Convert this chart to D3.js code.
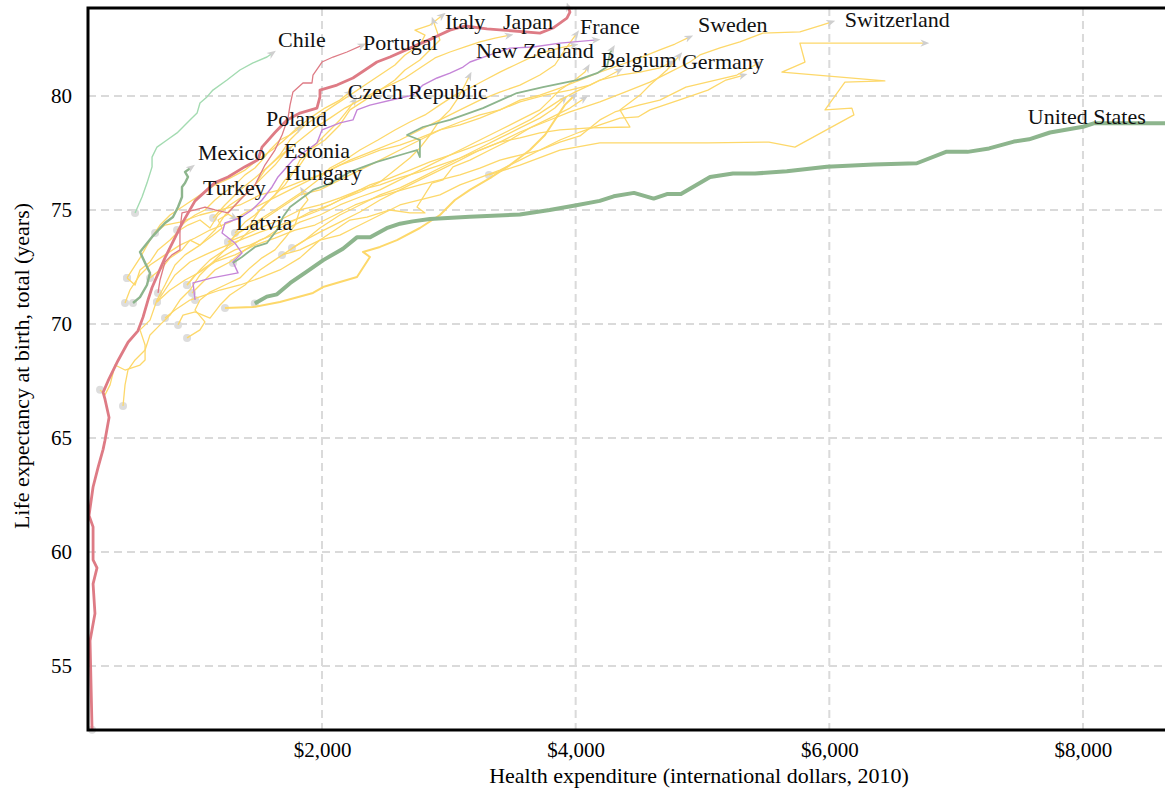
<!DOCTYPE html>
<html>
<head>
<meta charset="utf-8">
<script src="https://cdn.jsdelivr.net/npm/d3@7"></script>
<style>
  html, body { margin: 0; padding: 0; background: #fff; overflow: hidden; }
  svg { display: block; font-family: "Liberation Serif", "Times New Roman", serif; }
</style>
</head>
<body>
<svg id="chart" width="1165" height="792"></svg>
<script>
// ---- Axis ticks ----
const xTicks = [2000, 4000, 6000, 8000];
const yTicks = [55, 60, 65, 70, 75, 80];

// ---- Country trajectories: [health expenditure ($), life expectancy (years)] by year ----
const unitedStates = [[1470,70.9],[1565,71.2],[1645,71.3],[1750,71.8],[1880,72.3],[2010,72.8],[2165,73.3],[2275,73.8],[2380,73.8],[2510,74.2],[2615,74.4],[2715,74.5],[2850,74.6],[3165,74.7],[3560,74.8],[3795,75.0],[3995,75.2],[4190,75.4],[4300,75.6],[4460,75.75],[4615,75.5],[4720,75.7],[4830,75.7],[5060,76.45],[5240,76.6],[5415,76.6],[5665,76.7],[5980,76.9],[6350,77.0],[6690,77.05],[6920,77.55],[7090,77.55],[7260,77.7],[7455,78.0],[7575,78.1],[7740,78.4],[8000,78.65],[8085,78.8],[8315,78.8],[8700,78.8]];
const japan = [[187,52.2],[171,56.1],[210,57.3],[195,58.6],[226,59.3],[195,59.65],[195,61.1],[163,61.6],[195,62.85],[234,63.7],[274,64.5],[289,64.9],[321,65.9],[289,66.7],[274,67.0],[313,67.5],[392,68.4],[471,69.2],[549,69.7],[589,70.3],[628,71.05],[660,71.6],[762,72.9],[896,74.4],[999,75.4],[1156,76.2],[1259,76.45],[1393,76.9],[1495,77.2],[1527,77.76],[1629,78.4],[1724,78.95],[1826,79.25],[1960,79.47],[1984,79.96],[1984,80.26],[2118,80.48],[2244,80.79],[2339,81.14],[2433,81.49],[2536,81.71],[2694,82.1],[2875,82.54],[3009,82.89],[3127,83.07],[3301,82.94],[3427,82.89],[3718,82.76],[3821,82.98],[3931,83.42],[3955,83.68],[3939,83.95]];
const portugal = [[707,71.36],[723,71.93],[762,72.72],[817,73.03],[880,73.25],[880,74.12],[896,74.87],[999,75.0],[1078,75.13],[1156,75.0],[1259,74.87],[1353,75.44],[1472,76.1],[1550,76.97],[1629,77.63],[1685,78.29],[1732,79.03],[1748,79.6],[1771,80.18],[1850,80.57],[1921,80.57],[1929,80.92],[2000,81.49],[2087,81.71],[2197,81.93],[2323,82.24]];
const newZealand = [[999,71.05],[983,71.8],[1133,72.02],[1338,72.24],[1298,72.72],[1369,73.11],[1314,73.55],[1212,73.99],[1235,74.43],[1353,74.65],[1448,75.0],[1527,75.44],[1606,76.01],[1653,76.45],[1771,77.19],[1850,77.5],[1960,77.94],[2000,78.51],[2142,78.82],[2244,78.95],[2276,79.39],[2378,79.6],[2615,79.91],[2717,80.04],[2796,80.48],[2907,80.79],[3009,81.0],[3112,81.27],[3167,81.49],[3324,81.8],[3482,82.1],[3663,82.15],[3876,82.32],[4168,82.46]];
const mexico = [[510,70.92],[565,71.18],[620,71.71],[644,72.24],[605,72.68],[565,73.16],[660,73.82],[762,74.43],[825,74.69],[865,75.13],[896,75.57],[896,76.01],[920,76.18],[943,76.45],[920,76.67],[975,76.89]];
const canada = [[1298,72.68],[1369,72.94],[1472,73.38],[1566,73.55],[1645,74.12],[1692,74.69],[1748,75.13],[1929,75.88],[2039,76.1],[2220,76.67],[2433,77.11],[2670,77.5],[2749,77.63],[2772,77.32],[2772,78.07],[2670,78.29],[2796,78.64],[3009,78.95],[3269,79.47],[3537,80.13],[3742,80.39],[4010,80.7],[4168,81.0],[4247,81.27],[4271,81.89],[4294,82.1]];
const chile = [[526,74.87],[581,75.57],[620,76.18],[660,76.89],[660,77.32],[699,77.76],[778,78.07],[857,78.38],[959,78.95],[1015,79.25],[1038,79.69],[1093,79.96],[1140,80.26],[1251,80.7],[1353,81.14],[1456,81.45],[1566,81.71],[1613,81.89]];

const italy = [[250,67.11],[289,66.89],[329,67.33],[368,68.2],[447,67.98],[565,68.2],[605,68.42],[605,69.08],[565,69.74],[644,70.17],[699,71.05],[762,71.71],[841,72.59],[920,73.03],[1038,73.46],[1156,74.12],[1235,74.78],[1353,75.44],[1471,76.1],[1550,76.75],[1668,77.41],[1747,78.07],[1866,78.73],[1984,79.17],[2102,79.61],[2220,80.04],[2339,80.48],[2457,80.92],[2575,81.36],[2654,81.8],[2772,82.24],[2812,82.67],[2733,82.89],[2851,83.11],[2953,83.55]];
const spain = [[431,66.4],[447,67.33],[470,67.98],[526,68.42],[605,68.86],[644,69.52],[723,69.96],[802,70.39],[880,71.05],[959,71.49],[1038,72.15],[1117,72.59],[1235,73.25],[1314,73.9],[1432,74.34],[1511,75.0],[1629,75.66],[1708,76.32],[1826,76.97],[1905,77.63],[2023,78.07],[2141,78.73],[2220,79.39],[2339,79.82],[2457,80.26],[2575,80.7],[2654,81.14],[2772,81.58],[2851,82.02],[2930,82.46],[2875,83.33]];
const france = [[447,70.92],[486,71.49],[565,72.15],[644,72.59],[762,73.03],[880,73.46],[999,73.77],[1117,74.12],[1274,74.47],[1432,75.0],[1590,75.44],[1747,75.88],[1905,76.32],[2063,76.75],[2220,77.19],[2417,77.63],[2614,78.07],[2772,78.51],[2930,78.95],[3088,79.39],[3245,79.82],[3403,80.17],[3561,80.48],[3718,80.92],[3836,81.36],[3915,82.02],[4010,82.76]];
const sweden = [[684,73.99],[762,74.34],[880,74.47],[1038,74.78],[1196,75.0],[1353,75.22],[1511,75.66],[1668,75.88],[1826,76.23],[1984,76.54],[2141,76.97],[2299,77.28],[2457,77.63],[2614,77.85],[2772,78.16],[2930,78.51],[3088,78.73],[3245,79.03],[3403,79.39],[3561,79.82],[3718,80.04],[3876,80.35],[4034,80.7],[4191,81.05],[4349,81.36],[4507,81.67],[4664,82.02],[4783,82.28],[4901,82.59]];
const switzerland = [[1763,73.33],[1866,73.68],[1984,74.03],[2141,74.47],[2299,74.91],[2457,75.44],[2614,75.88],[2772,76.32],[2930,76.75],[3088,77.19],[3245,77.63],[3403,77.98],[3561,78.42],[3758,78.86],[3955,79.3],[4191,79.74],[4388,80.17],[4586,80.61],[4743,81.05],[4901,81.49],[4980,81.8],[5138,82.11],[5295,82.37],[5476,82.76],[5768,82.81],[5941,83.11],[6020,83.25]];
const luxembourg = [[3316,76.54],[3561,76.97],[3876,77.63],[4191,77.94],[5043,77.94],[5524,77.98],[5729,77.76],[6194,79.17],[6178,79.47],[5966,79.39],[6123,80.61],[6438,80.66],[5626,81.05],[5808,81.49],[5768,82.32],[6761,82.32]];
const norway = [[1685,73.03],[1826,73.25],[1984,73.68],[2141,73.9],[2299,74.34],[2457,74.78],[2614,75.22],[2772,75.44],[2930,75.66],[3088,76.1],[3245,76.42],[3403,76.75],[3561,77.19],[3718,77.63],[3876,78.07],[4034,78.42],[4191,78.73],[4349,79.03],[4492,79.08],[4586,79.39],[4814,79.82],[5043,80.26],[5185,80.7],[5327,80.92]];
const netherlands = [[1259,73.6],[1393,73.9],[1511,74.21],[1668,74.56],[1826,75.0],[1984,75.22],[2141,75.53],[2299,75.88],[2457,76.1],[2614,76.42],[2772,76.67],[2930,76.97],[3088,77.28],[3245,77.63],[3403,77.98],[3561,78.16],[3718,78.38],[3876,78.51],[4112,78.6],[4428,78.64],[4349,79.39],[4507,80.04],[4586,80.48],[4720,81.14],[4822,81.8]];
const denmark = [[699,70.96],[802,71.49],[920,71.93],[1038,72.28],[1156,72.72],[1314,73.03],[1471,73.46],[1629,73.77],[1787,74.12],[1944,74.34],[2102,74.78],[2260,75.22],[2417,75.53],[2575,75.79],[2772,76.1],[2930,76.32],[3088,76.54],[3245,76.84],[3403,77.19],[3561,77.41],[3718,77.63],[3876,77.98],[4034,78.25],[4191,78.95],[4309,79.3],[4507,79.61],[4664,79.82],[4869,80.39],[5271,80.92],[5445,81.45]];
const austria = [[936,71.71],[1038,72.37],[1117,72.81],[1235,73.25],[1353,73.68],[1471,74.34],[1590,74.78],[1708,75.22],[1826,75.66],[1984,75.88],[2141,76.32],[2299,76.75],[2457,77.19],[2614,77.63],[2772,78.07],[2930,78.51],[3088,78.86],[3245,79.17],[3403,79.39],[3561,79.74],[3758,80.04],[3955,80.26],[4112,80.48],[4191,80.7],[4349,80.92],[4507,81.05],[4664,81.23],[4759,81.49]];
const belgium = [[975,71.36],[1077,71.93],[1156,72.37],[1274,72.72],[1393,73.25],[1511,73.68],[1668,74.03],[1826,74.47],[1984,74.78],[2141,75.22],[2299,75.57],[2457,75.88],[2614,76.32],[2772,76.75],[2930,77.19],[3088,77.63],[3245,78.07],[3403,78.51],[3561,78.95],[3718,79.39],[3797,79.82],[3876,80.26],[3994,80.7],[4073,81.05],[4096,81.27]];
const germany = [[1235,70.7],[1456,70.74],[1668,70.96],[1929,71.36],[2008,71.62],[2276,72.06],[2378,72.94],[2323,73.16],[2457,73.38],[2591,73.68],[2772,74.21],[2930,74.78],[3048,75.44],[3166,75.88],[3324,76.4],[3482,76.97],[3639,77.63],[3758,78.29],[3836,78.95],[3915,79.61],[3994,80.04]];
const unitedKingdom = [[762,70.26],[841,70.61],[959,71.05],[1077,71.27],[1196,71.49],[1353,71.71],[1511,72.02],[1668,72.37],[1826,72.9],[1984,73.68],[2102,74.12],[2220,74.56],[2354,74.69],[2536,75.0],[2693,74.87],[2812,74.87],[2749,75.13],[2867,76.18],[2954,76.32],[3033,76.89],[3166,77.19],[3324,77.63],[3482,78.07],[3639,78.6],[3797,79.03],[3955,79.47],[4073,79.91]];
const finland = [[865,69.96],[904,70.39],[999,70.53],[1117,70.26],[1196,70.83],[1274,71.27],[1393,71.71],[1511,72.37],[1629,72.81],[1747,73.25],[1866,73.68],[1984,74.21],[2141,74.78],[2299,75.22],[2457,75.66],[2614,75.97],[2772,76.4],[2930,76.84],[3088,77.28],[3245,77.72],[3403,78.16],[3561,78.6],[3718,79.03],[3836,79.47],[3915,79.91]];
const hungary = [[936,69.39],[1038,69.74],[1077,70.09],[999,70.61],[1038,71.05],[1117,71.4],[1235,71.71],[1353,72.02],[1432,72.46],[1527,72.9],[1629,73.25],[1708,73.77],[1787,74.34],[1826,75.0],[1889,75.44],[1842,75.88]];
const estonia = [[463,72.02],[526,71.71],[565,72.37],[644,72.72],[707,73.25],[802,73.68],[880,74.12],[943,74.34],[1038,74.56],[1117,74.21],[1180,74.78],[1274,75.22],[1393,75.66],[1471,76.1],[1550,76.54],[1629,76.97],[1692,77.41],[1747,77.72]];
const latvia = [[644,72.02],[739,72.46],[802,72.9],[896,73.25],[959,73.68],[1038,73.46],[1133,73.86],[1212,74.21],[1180,74.56],[1259,74.82],[1314,74.65]];
const poland = [[857,74.12],[920,74.47],[999,74.78],[1077,75.0],[1156,75.44],[1235,75.79],[1314,76.1],[1393,76.54],[1471,76.84],[1527,77.19],[1590,77.63],[1668,78.07],[1747,78.29],[1826,78.6]];
const czechRepublic = [[1314,73.99],[1393,74.47],[1471,74.78],[1550,75.22],[1629,75.66],[1708,76.1],[1787,76.75],[1826,77.19],[1905,77.63],[1984,78.07],[2063,78.51],[2141,78.95],[2204,79.39],[2260,79.82]];
const greece = [[699,70.96],[762,71.49],[841,72.15],[959,72.72],[1077,73.03],[1196,73.33],[1353,73.68],[1511,74.03],[1668,74.34],[1826,74.65],[1984,75.0],[2141,75.44],[2299,75.79],[2457,76.23],[2575,76.75],[2693,77.28],[2772,77.72],[2851,78.29],[2930,78.95],[3009,79.39],[3072,79.91],[3127,80.48],[3166,80.92]];
const ireland = [[936,71.71],[999,72.15],[1077,72.46],[1196,72.9],[1314,73.25],[1432,73.46],[1550,73.77],[1668,74.21],[1787,74.56],[1905,74.91],[2063,75.22],[2220,75.66],[2378,76.1],[2536,76.4],[2693,76.75],[2851,77.11],[3009,77.41],[3166,77.72],[3324,78.07],[3482,78.51],[3639,78.95],[3758,79.39],[3876,79.82],[3994,80.17],[4112,80.48],[4230,80.79],[4349,81.14]];
const australia = [[1259,73.6],[1353,74.03],[1448,74.34],[1527,74.65],[1629,75.0],[1747,75.44],[1866,75.88],[1968,76.32],[2063,76.84],[2181,77.19],[2299,77.63],[2441,78.07],[2575,78.51],[2693,78.86],[2812,79.17],[2930,79.61],[3048,80.04],[3166,80.35],[3285,80.7],[3403,81.05],[3521,81.36],[3639,81.67],[3758,81.93],[3876,82.11],[3994,82.24]];
const iceland = [[1141,74.65],[1235,75.22],[1353,75.88],[1471,76.4],[1590,76.97],[1708,77.54],[1826,78.07],[1944,78.6],[2063,79.03],[2181,79.47],[2299,79.82],[2417,80.17],[2536,80.48],[2654,80.79],[2772,81.23],[2891,81.67],[3009,81.93],[3127,82.15],[3245,82.37],[3364,82.54],[3482,82.67]];
const israel = [[463,72.02],[565,72.9],[644,73.68],[723,74.34],[802,74.78],[920,75.22],[1038,75.66],[1156,76.1],[1274,76.4],[1393,76.75],[1511,77.28],[1606,77.63],[1685,77.98],[1787,78.51],[1905,79.03],[2023,79.47],[2141,79.82],[2220,80.17]];

// Series table: name, region group, trajectory
const series = [
  ["Italy", "europe", italy], ["Spain", "europe", spain], ["France", "europe", france],
  ["Sweden", "europe", sweden], ["Switzerland", "europe", switzerland], ["Luxembourg", "europe", luxembourg],
  ["Norway", "europe", norway], ["Netherlands", "europe", netherlands], ["Denmark", "europe", denmark],
  ["Austria", "europe", austria], ["Belgium", "europe", belgium], ["Germany", "europe", germany],
  ["United Kingdom", "europe", unitedKingdom], ["Finland", "europe", finland], ["Hungary", "europe", hungary],
  ["Estonia", "europe", estonia], ["Latvia", "europe", latvia], ["Poland", "europe", poland],
  ["Czech Republic", "europe", czechRepublic], ["Greece", "europe", greece], ["Ireland", "europe", ireland],
  ["Iceland", "europe", iceland], ["Israel", "europe", israel], ["Australia", "europe", australia],
  ["New Zealand", "oceania", newZealand],
  ["Portugal", "asia", portugal],
  ["Chile", "southAmerica", chile],
  ["Canada", "americas", canada], ["Mexico", "americas", mexico],
  ["Japan", "asia", japan],
  ["United States", "americas", unitedStates]
];

// Country labels: [text, expenditure, life expectancy] at the text's start and baseline
const labels = [
  ["Chile", 1653, 82.15], ["Portugal", 2323, 82.0], ["Italy", 2970, 82.96], ["Japan", 3427, 82.96],
  ["France", 4034, 82.72], ["Sweden", 4964, 82.81], ["Switzerland", 6122, 83.03],
  ["New Zealand", 3214, 81.68], ["Belgium", 4199, 81.28], ["Germany", 4838, 81.18],
  ["Czech Republic", 2204, 79.87], ["Poland", 1558, 78.68], ["Mexico", 1022, 77.19],
  ["Estonia", 1700, 77.3], ["Hungary", 1708, 76.3], ["Turkey", 1062, 75.66],
  ["Latvia", 1322, 74.12], ["United States", 7565, 78.77]
];

// ---- Styling ----
const regionColor = {
  europe: "#fdd86a", oceania: "#c585d8", asia: "#de7b85",
  americas: "#8db58d", southAmerica: "#a3dbb1"
};
const strokeWidth = {
  "United States": 4, "Japan": 2.8, "Mexico": 2.4, "Canada": 1.8, "Germany": 2,
  "Chile": 1.4, "Portugal": 1.3, "New Zealand": 1.4
};

const svg = d3.select("#chart");
const plotLeft = 88, plotTop = 8, plotBottom = 730, plotRight = 1310;

const x = d3.scaleLinear().domain([155, 9790]).range([plotLeft, plotRight]);
const y = d3.scaleLinear().domain([52.19, 83.86]).range([plotBottom, plotTop]);

// Grid
const grid = svg.append("g").attr("stroke", "#dadada").attr("stroke-width", 2).attr("stroke-dasharray", "8,5");
grid.selectAll("line.h").data(yTicks).join("line").attr("class", "h")
  .attr("x1", plotLeft).attr("x2", plotRight).attr("y1", d => y(d)).attr("y2", d => y(d));
grid.selectAll("line.v").data(xTicks).join("line").attr("class", "v")
  .attr("y1", plotTop).attr("y2", plotBottom).attr("x1", d => x(d)).attr("x2", d => x(d));

// Arrow tip for the latest year
svg.append("defs").append("marker")
  .attr("id", "tip").attr("viewBox", "0 0 10 10").attr("refX", 6).attr("refY", 5)
  .attr("markerWidth", 9).attr("markerHeight", 9).attr("markerUnits", "userSpaceOnUse")
  .attr("orient", "auto")
  .append("path").attr("d", "M0,1L10,5L0,9L3,5Z").attr("fill", "#cfcfcf");

// Starting-year dots
svg.append("g").selectAll("circle").data(series).join("circle")
  .attr("cx", d => x(d[2][0][0])).attr("cy", d => y(d[2][0][1]))
  .attr("r", 4).attr("fill", "#dddddd");

// Trajectories
const line = d3.line().x(d => x(d[0])).y(d => y(d[1]));
svg.append("g").attr("fill", "none").attr("stroke-linejoin", "round")
  .selectAll("path").data(series).join("path")
  .attr("d", d => line(d[2]))
  .attr("stroke", d => regionColor[d[1]])
  .attr("stroke-width", d => strokeWidth[d[0]] || 1.3)
  .attr("marker-end", "url(#tip)");

// Frame
svg.append("rect").attr("x", plotLeft).attr("y", plotTop)
  .attr("width", plotRight - plotLeft).attr("height", plotBottom - plotTop)
  .attr("fill", "none").attr("stroke", "#000").attr("stroke-width", 3);

// Axes
const yAxis = svg.append("g").attr("transform", `translate(${plotLeft},0)`)
  .call(d3.axisLeft(y).tickValues(yTicks).tickSize(0).tickPadding(16));
const xAxis = svg.append("g").attr("transform", `translate(0,${plotBottom})`)
  .call(d3.axisBottom(x).tickValues(xTicks).tickSize(0).tickPadding(12)
    .tickFormat(d => "$" + d3.format(",")(d)));
[xAxis, yAxis].forEach(a => {
  a.select(".domain").remove();
  a.selectAll("text").attr("font-size", 21)
    .attr("font-family", "Liberation Serif, Times New Roman, serif").attr("fill", "#000");
});

// Axis titles
svg.append("text").attr("x", 699).attr("y", 783).attr("text-anchor", "middle")
  .attr("font-size", 22).text("Health expenditure (international dollars, 2010)");
svg.append("text").attr("transform", "translate(29,366) rotate(-90)").attr("text-anchor", "middle")
  .attr("font-size", 22).text("Life expectancy at birth, total (years)");

// Country labels
svg.append("g").selectAll("text").data(labels).join("text")
  .attr("x", d => x(d[1])).attr("y", d => y(d[2]))
  .attr("font-size", 22).attr("fill", "#111").text(d => d[0]);
</script>
</body>
</html>
